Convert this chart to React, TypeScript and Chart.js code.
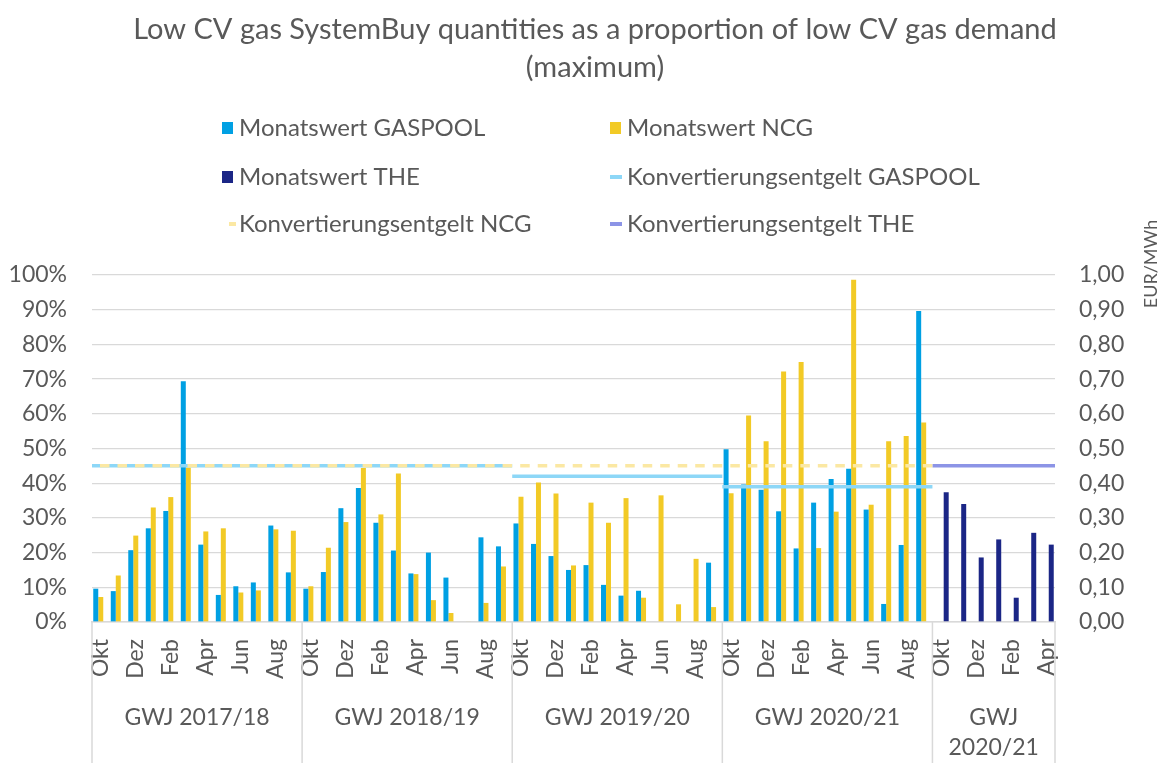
import React, { useEffect, useRef } from 'react';
import { Chart, registerables } from 'chart.js';

Chart.register(...registerables);

// ---------- data ----------
const groupLabels = ['GWJ 2017/18', 'GWJ 2018/19', 'GWJ 2019/20', 'GWJ 2020/21', 'GWJ 2020/21'];
const monthNames = ['Okt', 'Nov', 'Dez', 'Jan', 'Feb', 'Mär', 'Apr', 'Mai', 'Jun', 'Jul', 'Aug', 'Sep'];
const monthsPerGroup = [12, 12, 12, 12, 7];

// Monatswert GASPOOL (%)
const gaspool1718 = [9.6, 8.9, 20.7, 27.0, 32.0, 69.4, 22.3, 7.8, 10.3, 11.4, 27.8, 14.3];
const gaspool1819 = [9.6, 14.4, 32.8, 38.6, 28.6, 20.6, 14.0, 20.0, 12.8, 0, 24.4, 21.8];
const gaspool1920 = [28.4, 22.5, 19.0, 15.0, 16.4, 10.7, 7.6, 9.0, 0, 0, 0, 17.1];
const gaspool2021 = [49.8, 39.6, 38.1, 31.9, 21.2, 34.4, 41.2, 44.2, 32.4, 5.2, 22.2, 89.6];

// Monatswert NCG (%)
const ncg1718 = [7.2, 13.4, 24.9, 33.0, 36.0, 44.5, 26.1, 27.0, 8.5, 9.1, 26.7, 26.3];
const ncg1819 = [10.3, 21.4, 28.8, 44.4, 31.0, 42.8, 13.8, 6.3, 2.6, 0.2, 5.5, 16.0];
const ncg1920 = [36.1, 40.2, 37.0, 16.3, 34.4, 28.6, 35.7, 7.0, 36.5, 5.1, 18.2, 4.3];
const ncg2021 = [37.1, 59.5, 52.1, 72.2, 74.9, 21.3, 31.8, 98.6, 33.8, 52.1, 53.6, 57.5];

// Monatswert THE (%)
const theValues = [37.4, 34.0, 18.6, 23.8, 7.0, 25.7, 22.3];

// Konvertierungsentgelt (EUR/MWh) per GWJ
const feeGaspool = [0.45, 0.45, 0.42, 0.39, null];
const feeNcg = [0.45, 0.45, 0.45, 0.45, null];
const feeThe = [null, null, null, null, 0.45];

// ---------- styles ----------
const FONT = 'Lato, "Noto Sans", sans-serif';
const TEXT = '#595959';
const GRID = '#D9D9D9';
const C_GASPOOL = '#00A0E3';
const C_NCG = '#F2CA26';
const C_THE = '#1B2686';
const C_FEE_GASPOOL = '#8DD7F7';
const C_FEE_NCG = '#FBE8A3';
const C_FEE_THE = '#8C94E6';

const W = 1162;
const H = 763;
const PAD = { left: 92, right: 107, top: 275, bottom: 141 };

const totalCats = monthsPerGroup.reduce((a, b) => a + b, 0);
const groupStarts: number[] = [];
monthsPerGroup.reduce((acc, m) => {
  groupStarts.push(acc);
  return acc + m;
}, 0);

const labels: string[] = [];
const monthIndexInGroup: number[] = [];
monthsPerGroup.forEach((m) => {
  for (let i = 0; i < m; i++) {
    labels.push(monthNames[i]);
    monthIndexInGroup.push(i);
  }
});

const gaspoolAll = [...gaspool1718, ...gaspool1819, ...gaspool1920, ...gaspool2021];
const ncgAll = [...ncg1718, ...ncg1819, ...ncg1920, ...ncg2021];
const pad = (arr: (number | null)[], before: number) => {
  const out: (number | null)[] = [];
  for (let i = 0; i < before; i++) out.push(null);
  arr.forEach((v) => out.push(v));
  while (out.length < totalCats) out.push(null);
  return out;
};
const gaspoolData = pad(gaspoolAll, 0);
const ncgData = pad(ncgAll, 0);
const theData = pad(theValues, groupStarts[4]);

// fee lines run across each GWJ block, from its first to its last category edge
const feeLine = (fees: (number | null)[]) => {
  const pts: { x: number; y: number | null }[] = [];
  fees.forEach((v, g) => {
    if (v === null) return;
    const s = groupStarts[g];
    const e = s + monthsPerGroup[g];
    pts.push({ x: s, y: v }, { x: e, y: v }, { x: e, y: null });
  });
  return pts;
};

const legendItems = [
  { col: 0, row: 0, kind: 'box', color: C_GASPOOL, text: 'Monatswert GASPOOL' },
  { col: 1, row: 0, kind: 'box', color: C_NCG, text: 'Monatswert NCG' },
  { col: 0, row: 1, kind: 'box', color: C_THE, text: 'Monatswert THE' },
  { col: 1, row: 1, kind: 'line', color: C_FEE_GASPOOL, text: 'Konvertierungsentgelt GASPOOL' },
  { col: 0, row: 2, kind: 'dash', color: C_FEE_NCG, text: 'Konvertierungsentgelt NCG' },
  { col: 1, row: 2, kind: 'line', color: C_FEE_THE, text: 'Konvertierungsentgelt THE' },
];

const decorPlugin = {
  id: 'decor',
  afterDraw(chart: any) {
    const { ctx, chartArea } = chart;
    const catW = (chartArea.right - chartArea.left) / totalCats;
    ctx.save();

    // title
    ctx.fillStyle = TEXT;
    ctx.textAlign = 'center';
    ctx.textBaseline = 'middle';
    ctx.font = `29px ${FONT}`;
    ctx.fillText('Low CV gas SystemBuy quantities as a proportion of low CV gas demand', 595, 30);
    ctx.fillText('(maximum)', 595, 68);

    // legend
    ctx.font = `24px ${FONT}`;
    ctx.textAlign = 'left';
    const colX = [222, 610];
    const rowY = [128, 177, 224];
    legendItems.forEach((it) => {
      const x = colX[it.col];
      const y = rowY[it.row];
      ctx.fillStyle = it.color;
      if (it.kind === 'box') ctx.fillRect(x, y - 6, 11, 12);
      else if (it.kind === 'line') ctx.fillRect(x, y - 2, 12, 4);
      else ctx.fillRect(x + 7, y - 2, 7, 4);
      ctx.fillStyle = TEXT;
      ctx.fillText(it.text, x + 17, y);
    });

    // right axis title
    ctx.save();
    ctx.font = `18px ${FONT}`;
    ctx.translate(1151, 264);
    ctx.rotate(-Math.PI / 2);
    ctx.textAlign = 'center';
    ctx.fillText('EUR/MWh', 0, 0);
    ctx.restore();

    // group separators
    ctx.strokeStyle = GRID;
    ctx.lineWidth = 1.5;
    const bounds = [...groupStarts, totalCats];
    bounds.forEach((b) => {
      const px = chartArea.left + b * catW;
      ctx.beginPath();
      ctx.moveTo(px, chartArea.bottom);
      ctx.lineTo(px, chart.height);
      ctx.stroke();
    });

    // group labels
    ctx.fillStyle = TEXT;
    ctx.textAlign = 'center';
    ctx.font = `23px ${FONT}`;
    groupLabels.forEach((label, i) => {
      const cx = chartArea.left + ((bounds[i] + bounds[i + 1]) / 2) * catW;
      const w = (bounds[i + 1] - bounds[i]) * catW;
      const lines = ctx.measureText(label).width > w - 16 ? label.split(' ') : [label];
      lines.forEach((l: string, j: number) => ctx.fillText(l, cx, chartArea.bottom + 96 + j * 30));
    });
    ctx.restore();
  },
};

export default function App() {
  const barRef = useRef<HTMLCanvasElement | null>(null);
  const lineRef = useRef<HTMLCanvasElement | null>(null);

  useEffect(() => {
    document.body.style.margin = '0';
    if (!barRef.current || !lineRef.current) return;
    const tickFont = { family: FONT, size: 23 };

    const barChart = new Chart(barRef.current, {
      type: 'bar',
      data: {
        labels,
        datasets: [
          {
            label: 'Monatswert GASPOOL',
            data: gaspoolData,
            backgroundColor: C_GASPOOL,
            categoryPercentage: 0.857,
            barPercentage: 1,
          },
          {
            label: 'Monatswert NCG',
            data: ncgData,
            backgroundColor: C_NCG,
            categoryPercentage: 0.857,
            barPercentage: 1,
          },
          {
            label: 'Monatswert THE',
            data: theData,
            backgroundColor: C_THE,
            categoryPercentage: 0.857,
            barPercentage: 1,
          },
        ],
      },
      options: {
        responsive: false,
        devicePixelRatio: 1,
        animation: false,
        layout: { padding: { top: PAD.top, left: 0, right: 0, bottom: 0 } },
        plugins: {
          legend: { display: false },
          title: { display: false },
          tooltip: { enabled: false },
        },
        scales: {
          x: {
            type: 'category',
            position: 'bottom',
            offset: true,
            grid: { display: false, drawTicks: false },
            border: { display: true, color: GRID, width: 1.5 },
            ticks: {
              autoSkip: false,
              minRotation: 90,
              maxRotation: 90,
              padding: 17,
              color: TEXT,
              font: tickFont,
              callback: (_v: any, i: number) => (monthIndexInGroup[i] % 2 === 0 ? labels[i] : ''),
            },
            afterFit: (s: any) => {
              s.height = PAD.bottom;
            },
          },
          y: {
            type: 'linear',
            position: 'left',
            min: 0,
            max: 100,
            grid: { color: GRID, lineWidth: 1.3, drawTicks: false },
            border: { display: false },
            ticks: {
              stepSize: 10,
              padding: 25,
              color: TEXT,
              font: tickFont,
              callback: (v: any) => `${v}%`,
            },
            afterFit: (s: any) => {
              s.width = PAD.left;
            },
          },
          y1: {
            type: 'linear',
            position: 'right',
            min: 0,
            max: 1,
            grid: { display: false, drawTicks: false },
            border: { display: false },
            ticks: {
              stepSize: 0.1,
              padding: 24,
              color: TEXT,
              font: tickFont,
              callback: (v: any) => Number(v).toFixed(2).replace('.', ','),
            },
            afterFit: (s: any) => {
              s.width = PAD.right;
            },
          },
        },
      },
      plugins: [decorPlugin],
    });

    // fee lines (EUR/MWh, right axis range 0..1) on an overlay with the same plot area
    const lineChart = new Chart(lineRef.current, {
      type: 'line',
      data: {
        datasets: [
          {
            label: 'Konvertierungsentgelt NCG',
            data: feeLine(feeNcg) as any,
            borderColor: C_FEE_NCG,
            borderWidth: 3.5,
            borderDash: [9.5, 8],
            borderDashOffset: 9.5,
            pointRadius: 0,
            spanGaps: false,
            order: 0,
          },
          {
            label: 'Konvertierungsentgelt GASPOOL',
            data: feeLine(feeGaspool) as any,
            borderColor: C_FEE_GASPOOL,
            borderWidth: 3.5,
            pointRadius: 0,
            spanGaps: false,
            order: 1,
          },
          {
            label: 'Konvertierungsentgelt THE',
            data: feeLine(feeThe) as any,
            borderColor: C_FEE_THE,
            borderWidth: 3.5,
            pointRadius: 0,
            spanGaps: false,
            order: 2,
          },
        ],
      },
      options: {
        responsive: false,
        devicePixelRatio: 1,
        animation: false,
        layout: { padding: PAD },
        plugins: {
          legend: { display: false },
          title: { display: false },
          tooltip: { enabled: false },
        },
        scales: {
          x: { type: 'linear', display: false, min: 0, max: totalCats },
          y: { type: 'linear', display: false, min: 0, max: 1 },
        },
      },
    });

    return () => {
      lineChart.destroy();
      barChart.destroy();
    };
  }, []);

  return (
    <div style={{ position: 'absolute', left: 0, top: 0, width: W, height: H }}>
      <canvas ref={barRef} width={W} height={H} style={{ display: 'block', width: W, height: H }} />
      <canvas
        ref={lineRef}
        width={W}
        height={H}
        style={{ position: 'absolute', left: 0, top: 0, display: 'block', width: W, height: H }}
      />
    </div>
  );
}
